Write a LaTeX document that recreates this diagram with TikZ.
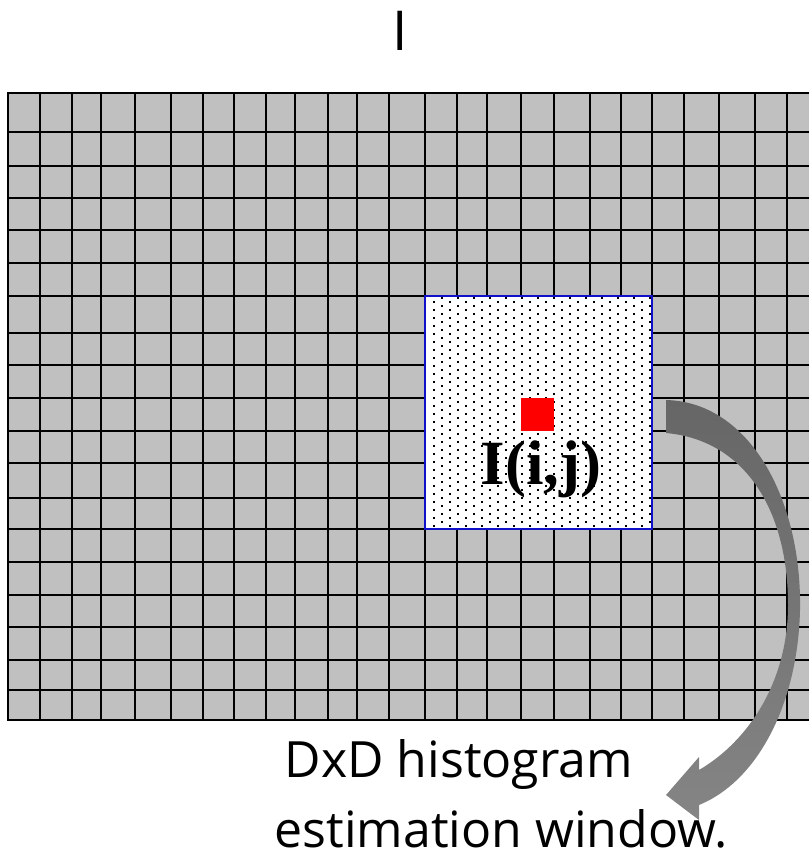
\documentclass[tikz,border=0pt]{standalone}
\usepackage{fontspec}
\newfontfamily\capfont[Ligatures=NoCommon]{Open Sans}
\newfontfamily\pixfont{Liberation Serif}
\definecolor{cellgray}{HTML}{C0C0C0}
\definecolor{winblue}{HTML}{1010C8}
\definecolor{arrowdark}{HTML}{666666}
\definecolor{arrowlight}{HTML}{858585}
\tikzset{
  gridline/.style={black,line width=1.8pt},
  captext/.style={anchor=base,inner sep=0pt,font=\capfont\fontsize{50}{58}\selectfont}
}
\begin{document}
\begin{tikzpicture}[x=1pt,y=-1pt]
\path[use as bounding box] (0,0) rectangle (809,860);
\fill[cellgray] (8,93) rectangle (809,720);
\foreach \x in {40,72,101,135,171,203,234,266,295,328,357,389,425,457,487,521,554,590,621,652,684,719,755,787}
  \draw[gridline] (\x,93) -- (\x,720);
\foreach \y in {132,166,198,230,263,296,333,365,398,431,463,498,529,562,595,627,660,690}
  \draw[gridline] (8,\y) -- (809,\y);
\draw[black,line width=2.6pt] (809,93) -- (8,93) -- (8,720) -- (809,720);
\fill[white] (425,296) rectangle (652,529);
\foreach \i in {0,...,27}
  \foreach \j in {0,...,28}
    \fill ({433+8*\i},{297+8*\j+4*(1-mod(\i,2))}) rectangle +(2,2);
\draw[winblue,line width=1.6pt] (425,296) rectangle (652,529);
\fill[red] (521,398) rectangle (554,431);
\node[anchor=base,inner sep=0pt,font=\pixfont\bfseries\fontsize{63}{70}\selectfont] (pix) at (541,484) {I(i,j)};
\node[captext,font=\capfont\fontsize{55}{60}\selectfont] (title) at (400,50) {I};
\node[captext] (capa) at (459,777) {DxD histogram};
\node[captext] (capb) at (501,847) {estimation window.};
\shade[top color=arrowdark,bottom color=arrowlight]
  (666,400) .. controls (750,402) and (802,500) .. (800,610)
  .. controls (798,700) and (760,780) .. (699,805)
  -- (699,820) -- (666,795) -- (699,757) -- (699,770)
  .. controls (750,740) and (788,680) .. (788,605)
  .. controls (788,510) and (745,440) .. (666,433) -- cycle;
\end{tikzpicture}
\end{document}
